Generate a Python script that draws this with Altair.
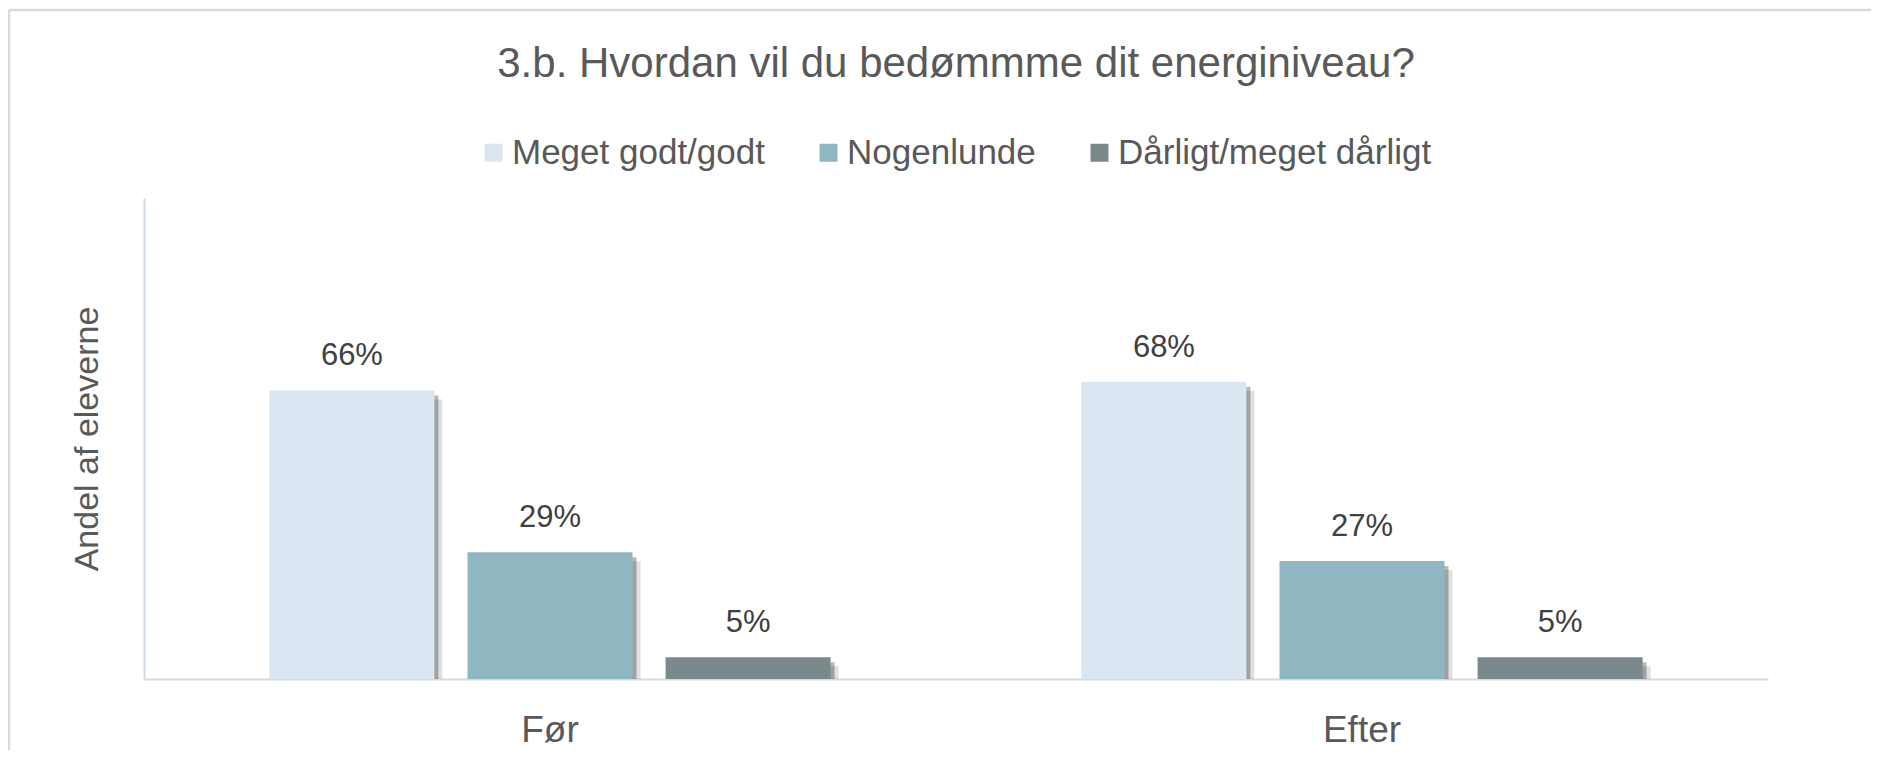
import altair as alt
import pandas as pd

# ---- data ----
tider = ["Før", "Efter"]
serier = ["Meget godt/godt", "Nogenlunde", "Dårligt/meget dårligt"]
foer = [0.66, 0.29, 0.05]
efter = [0.68, 0.27, 0.05]
farver = ["#DAE7F2", "#8FB7C1", "#7A8A8C"]

rows = []
for t, vals in zip(tider, [foer, efter]):
    for s, v in zip(serier, vals):
        rows.append({"Tid": t, "Serie": s, "Andel": v})
df = pd.DataFrame(rows)

FONT = "Liberation Sans"
W, H = 1624, 481
STEP = W / 2

x_enc = alt.X(
    "Tid:N", sort=tider,
    scale=alt.Scale(paddingInner=0, paddingOuter=0),
    axis=alt.Axis(title=None, labelAngle=0, labelFontSize=37, labelColor="#595959",
                  labelFont=FONT, labelPadding=33, ticks=False, tickSize=0,
                  domainColor="#D9D9D9", domainWidth=2),
)
y_enc = alt.Y(
    "Andel:Q",
    scale=alt.Scale(domain=[0, 1.1], nice=False, zero=True),
    axis=alt.Axis(title="Andel af eleverne", labels=False, ticks=False, tickSize=0,
                  grid=False, domainColor="#CCDAE8", domainWidth=2,
                  titleFontSize=34, titleFont=FONT, titleColor="#595959",
                  titleFontWeight="normal", titlePadding=40),
)


def xoff(shift):
    return alt.XOffset(
        "Serie:N", sort=serier,
        scale=alt.Scale(type="band", range=[shift, STEP + shift],
                        paddingInner=0.167, paddingOuter=0.633),
    )


base = alt.Chart(df)

shadow_far = base.mark_bar(color="#000000", opacity=0.12, yOffset=9, clip=True).encode(
    x=x_enc, y=y_enc, xOffset=xoff(8)
)
shadow_near = base.mark_bar(color="#000000", opacity=0.28, yOffset=5, clip=True).encode(
    x=x_enc, y=y_enc, xOffset=xoff(4)
)
bars = base.mark_bar().encode(
    x=x_enc, y=y_enc, xOffset=xoff(0),
    color=alt.Color(
        "Serie:N", sort=serier,
        scale=alt.Scale(domain=serier, range=farver),
        legend=alt.Legend(
            title=None, orient="none", legendX=332, legendY=-63,
            direction="horizontal", columns=3, padding=0,
            labelFontSize=35, labelFont=FONT, labelColor="#595959", labelLimit=0,
            symbolType="square", symbolSize=324, symbolStrokeWidth=0,
            labelOffset=1, columnPadding=46,
        ),
    ),
)
labels = base.mark_text(dy=-25, baseline="alphabetic", fontSize=31, font=FONT,
                        color="#404040").encode(
    x=x_enc, y=y_enc, xOffset=xoff(0),
    text=alt.Text("Andel:Q", format=".0%"),
)

frame_df = pd.DataFrame({"k": [0]})
frame_left = alt.Chart(frame_df).mark_rule(color="#D9D9D9", strokeWidth=2.5).encode(
    x=alt.value(-135), y=alt.value(-188), y2=alt.value(570)
)
frame_top = alt.Chart(frame_df).mark_rule(color="#D9D9D9", strokeWidth=2.5).encode(
    x=alt.value(-135), x2=alt.value(1745), y=alt.value(-188)
)

chart = alt.layer(
    frame_left, frame_top, shadow_far, shadow_near, bars, labels
).resolve_scale(
    xOffset="independent"
).properties(
    width=W, height=H,
    autosize=alt.AutoSizeParams(type="none"),
    padding={"left": 136, "top": 190, "right": 103, "bottom": 71},
    title=alt.TitleParams(
        "3.b. Hvordan vil du bedømmme dit energiniveau?",
        fontSize=42, font=FONT, color="#595959", fontWeight="normal",
        anchor="middle", frame="group", offset=20, baseline="alphabetic", dy=130,
    ),
).configure(background="white").configure_view(stroke=None)

chart.save("out.html", embed_options={"renderer": "svg", "actions": False})
